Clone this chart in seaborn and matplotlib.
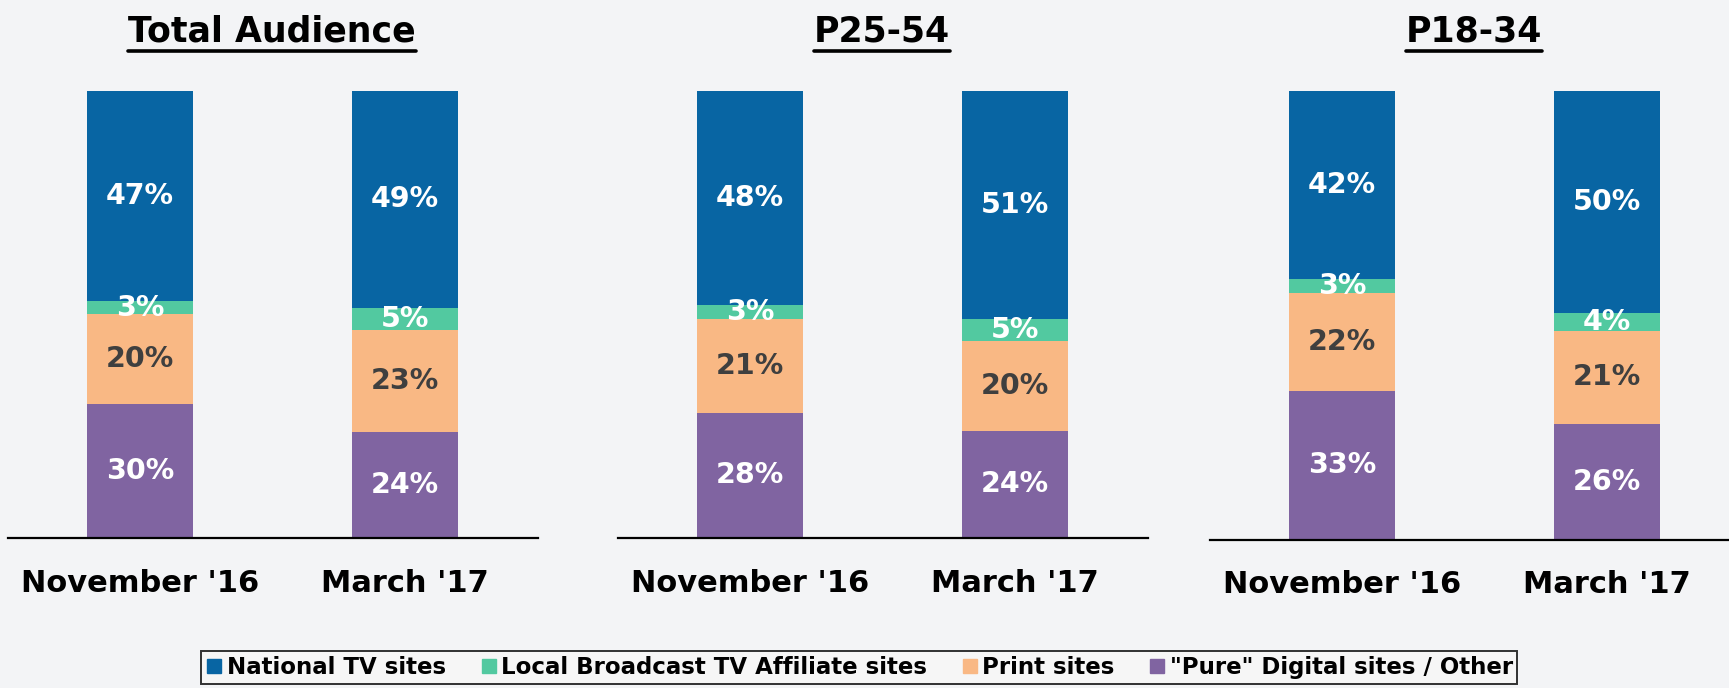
import numpy as np
import pandas as pd
import seaborn as sns
import matplotlib
matplotlib.use("Agg")
import matplotlib.pyplot as plt
from matplotlib.lines import Line2D

panels = ["Total Audience", "P25-54", "P18-34"]
periods = ["November '16", "March '17"]
segments = ["National TV sites", "Local Broadcast TV Affiliate sites",
            "Print sites", "\"Pure\" Digital sites / Other"]

# values in order: panel x period
national_tv = [47, 49, 48, 51, 42, 50]
local_affiliate = [3, 5, 3, 5, 3, 4]
print_sites = [20, 23, 21, 20, 22, 21]
pure_digital = [30, 24, 28, 24, 33, 26]

seg_colors = ["#0865a3", "#52c9a0", "#f9b884", "#8064a1"]
label_colors = ["white", "white", "#3f3f3f", "white"]

sns.set_theme(style="white")
plt.rcParams['font.family'] = ['DejaVu Sans']

rows = []
k = 0
for p in panels:
    for per in periods:
        vals = [national_tv[k], local_affiliate[k], print_sites[k], pure_digital[k]]
        tot = float(sum(vals))
        for s, v in zip(segments, vals):
            rows.append({"panel": p, "period": per, "segment": s, "value": v, "share": v / tot})
        k += 1
df = pd.DataFrame(rows)

# stack bottom -> top: digital, print, local, national
stack_order = segments[::-1]
df["top"] = 0.0
for (p, per), g in df.groupby(["panel", "period"]):
    cum = 0.0
    for s in stack_order:
        idx = g.index[g["segment"] == s][0]
        cum += df.loc[idx, "share"]
        df.loc[idx, "top"] = cum

W, H = 1729, 688
fig = plt.figure(figsize=(W / 100, H / 100), dpi=100)
fig.patch.set_facecolor("#f3f4f6")

lefts = [7.5, 617.5, 1209.5]
bottoms = [538, 538, 539.5]
title_x = [272, 882, 1474]

for i, p in enumerate(panels):
    ax = fig.add_axes([lefts[i] / W, (H - bottoms[i]) / H, 530 / W, (bottoms[i] - 90.5) / H])
    ax.set_facecolor("none")
    sub = df[df["panel"] == p]
    # draw from the tallest cumulative bar down so lower segments sit on top
    for s in segments:
        c = seg_colors[segments.index(s)]
        sns.barplot(data=sub[sub["segment"] == s], x="period", y="top", order=periods,
                    color=c, saturation=1, width=0.4, ax=ax, linewidth=0, errorbar=None)
    for _, r in sub.iterrows():
        xi = periods.index(r["period"])
        yc = r["top"] - r["share"] / 2
        ax.text(xi, yc, f"{r['value']}%", ha="center", va="center", fontsize=20.5,
                fontweight="bold", color=label_colors[segments.index(r["segment"])])
    ax.set_xlim(-0.5, 1.5)
    ax.set_ylim(0, 1)
    ax.set_xlabel("")
    ax.set_ylabel("")
    ax.set_yticks([])
    for sp in ["top", "left", "right"]:
        ax.spines[sp].set_visible(False)
    ax.spines["bottom"].set_color("black")
    ax.spines["bottom"].set_linewidth(1.6)
    ax.tick_params(axis="x", length=0, pad=22)
    for lab in ax.get_xticklabels():
        lab.set_fontsize(22)
        lab.set_fontweight("bold")
        lab.set_color("black")

    t = fig.text(title_x[i] / W, (H - 31) / H, p, ha="center", va="center",
                 fontsize=25, fontweight="bold", color="black")

fig.canvas.draw()
renderer = fig.canvas.get_renderer()
for t in fig.texts:
    bb = t.get_window_extent(renderer)
    y = (bb.y0 - 3) / H
    fig.add_artist(Line2D([bb.x0 / W, bb.x1 / W], [y, y], color="black", linewidth=2.6,
                          transform=fig.transFigure))

handles = [Line2D([0], [0], marker="s", linestyle="none", markersize=10,
                  markerfacecolor=c, markeredgecolor=c) for c in seg_colors]
leg = fig.legend(handles, segments, ncol=4, loc="center", bbox_to_anchor=(859 / W, (H - 667.5) / H),
                 frameon=True, fontsize=16.5, handletextpad=0.15, columnspacing=1.45,
                 borderpad=0.2, handlelength=0.8, fancybox=False)
leg.get_frame().set_edgecolor("black")
leg.get_frame().set_linewidth(1.4)
leg.get_frame().set_facecolor("#f7f7f7")
for tx in leg.get_texts():
    tx.set_fontweight("bold")
    tx.set_color("black")

fig.savefig("out.png", dpi=100, facecolor=fig.get_facecolor())
